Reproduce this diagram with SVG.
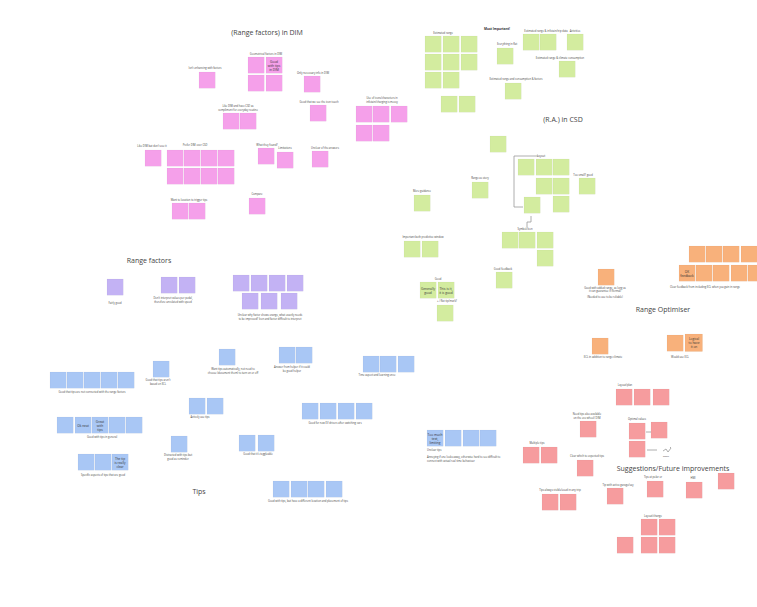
<svg xmlns="http://www.w3.org/2000/svg" width="757" height="607" viewBox="0 0 757 607">
<style>
.n{stroke:#000;stroke-opacity:0.07;stroke-width:0.4}
.pk{fill:#f5a0ea}.gr{fill:#d3ec9f}.or{fill:#f8b17b}.pu{fill:#c3b2f4}.bl{fill:#a9c7f5}.rd{fill:#f69c9e}
.t{font-family:"Open Sans","Liberation Sans",sans-serif;fill:#444;font-size:7px;text-anchor:middle}
.l{font-family:"Open Sans","Liberation Sans",sans-serif;fill:#444;font-size:2.6px;text-anchor:middle}
.ls{font-family:"Open Sans","Liberation Sans",sans-serif;fill:#444;font-size:2.6px}
.b{font-family:"Open Sans","Liberation Sans",sans-serif;fill:#333;font-size:3.2px;text-anchor:middle}
.c{fill:none;stroke:#9a9a9a;stroke-width:0.8}
</style>
<defs>
<rect id="s" width="16.2" height="16.2"/>
</defs>
<rect width="757" height="607" fill="#ffffff"/>

<g id="titles">
<text class="t" x="267" y="35">(Range factors) in DIM</text>
<text class="t" x="563" y="122">(R.A.) in CSD</text>
<text class="t" x="149" y="263">Range factors</text>
<text class="t" x="663" y="312">Range Optimiser</text>
<text class="t" x="673" y="471">Suggestions/Future improvements</text>
<text class="t" x="199" y="494">Tips</text>
</g>

<g id="connectors">
<path class="c" d="M538,156 H514 V207 H523"/>
<path class="c" d="M531,216 V222 H527 V227"/>
<path class="c" d="M646,432 H651" stroke-width="0.5"/>
<path class="c" d="M647,450 H657" stroke-width="0.5"/>
<path class="c" d="M663,451 l3,-2 l2,3 l3,-4 M670,447 l1,1" stroke-width="0.4"/>
</g>

<g id="dim-geo">
<text class="l" x="266" y="55">Geometrical factors in DIM</text>
<use href="#s" class="n pk" x="248" y="57"/><use href="#s" class="n pk" x="266" y="57"/>
<use href="#s" class="n pk" x="248" y="75"/><use href="#s" class="n pk" x="266" y="75"/>
<text class="b" x="274" y="63">Good</text><text class="b" x="274" y="67">with tips</text><text class="b" x="274" y="71">in DIM</text>
</g>
<g id="dim-enh"><text class="l" x="205" y="69">Isn't enhancing with factors</text><use href="#s" class="n pk" x="199" y="72"/></g>
<g id="dim-only"><text class="l" x="313" y="74">Only necessary info in DIM</text><use href="#s" class="n pk" x="304" y="76"/></g>
<g id="dim-icon"><text class="l" x="319" y="103">Good that we see the icon touch</text><use href="#s" class="n pk" x="310" y="105"/></g>
<g id="dim-use">
<text class="l" x="382" y="99">Use of icons/characters in</text><text class="l" x="382" y="103">infotain/charging is messy</text>
<use href="#s" class="n pk" x="356" y="106"/><use href="#s" class="n pk" x="373" y="106"/><use href="#s" class="n pk" x="391" y="106"/>
<use href="#s" class="n pk" x="356" y="125"/><use href="#s" class="n pk" x="373" y="125"/>
</g>
<g id="dim-like">
<text class="l" x="238" y="107">Like DIM and have CSD as</text><text class="l" x="238" y="111">compliment for everyday routine</text>
<use href="#s" class="n pk" x="223" y="113"/><use href="#s" class="n pk" x="240" y="113"/>
</g>
<g id="dim-dont"><text class="l" x="152" y="147">Like DIM but don't use it</text><use href="#s" class="n pk" x="145" y="150"/></g>
<g id="dim-prefer">
<text class="l" x="195" y="146">Prefer DIM over CSD</text>
<use href="#s" class="n pk" x="167" y="150"/><use href="#s" class="n pk" x="184" y="150"/><use href="#s" class="n pk" x="201" y="150"/><use href="#s" class="n pk" x="218" y="150"/>
<use href="#s" class="n pk" x="167" y="168"/><use href="#s" class="n pk" x="184" y="168"/><use href="#s" class="n pk" x="201" y="168"/><use href="#s" class="n pk" x="218" y="168"/>
</g>
<g id="dim-found"><text class="l" x="267" y="146">What they found?</text><use href="#s" class="n pk" x="258" y="148"/></g>
<g id="dim-lim"><text class="l" x="285" y="149">Limitations</text><use href="#s" class="n pk" x="277" y="152"/></g>
<g id="dim-unclear"><text class="l" x="325" y="149">Unclear of the answers</text><use href="#s" class="n pk" x="312" y="151"/></g>
<g id="dim-trigger"><text class="l" x="189" y="201">Want to location to trigger tips</text><use href="#s" class="n pk" x="172" y="203"/><use href="#s" class="n pk" x="189" y="203"/></g>
<g id="dim-compare"><text class="l" x="257" y="195">Compare</text><use href="#s" class="n pk" x="249" y="198"/></g>

<g id="csd-est">
<text class="b" x="497" y="30" style="font-weight:bold">Most Important!</text>
<text class="l" x="443" y="34">Estimated range</text>
<use href="#s" class="n gr" x="425" y="36"/><use href="#s" class="n gr" x="443" y="36"/><use href="#s" class="n gr" x="461" y="36"/>
<use href="#s" class="n gr" x="425" y="54"/><use href="#s" class="n gr" x="443" y="54"/><use href="#s" class="n gr" x="461" y="54"/>
<use href="#s" class="n gr" x="425" y="72"/><use href="#s" class="n gr" x="443" y="72"/>
<use href="#s" class="n gr" x="441" y="96"/><use href="#s" class="n gr" x="459" y="96"/>
</g>
<g id="csd-flat"><text class="l" x="507" y="45">Everything in flat</text><use href="#s" class="n gr" x="497" y="48"/></g>
<g id="csd-trip"><text class="l" x="546" y="32">Estimated range &amp; infotain/trip data</text><use href="#s" class="n gr" x="523" y="34"/><use href="#s" class="n gr" x="540" y="34"/></g>
<g id="csd-act"><text class="l" x="575" y="32">Activities</text><use href="#s" class="n gr" x="567" y="34"/></g>
<g id="csd-clim"><text class="l" x="560" y="59">Estimated range &amp; climate consumption</text><use href="#s" class="n gr" x="559" y="61"/></g>
<g id="csd-cons"><text class="l" x="516" y="80">Estimated range and consumption &amp; factors</text><use href="#s" class="n gr" x="505" y="83"/></g>
<g id="csd-lone"><use href="#s" class="n gr" x="490" y="136"/></g>
<g id="csd-layout">
<text class="l" x="541" y="157">Layout</text>
<use href="#s" class="n gr" x="518" y="159"/><use href="#s" class="n gr" x="536" y="159"/><use href="#s" class="n gr" x="553" y="159"/>
<use href="#s" class="n gr" x="536" y="178"/><use href="#s" class="n gr" x="553" y="178"/>
<use href="#s" class="n gr" x="553" y="196"/><use href="#s" class="n gr" x="524" y="197"/>
</g>
<g id="csd-small"><text class="l" x="583" y="176">Too small? good</text><use href="#s" class="n gr" x="579" y="178"/></g>
<g id="csd-story"><text class="l" x="480" y="179">Range as story</text><use href="#s" class="n gr" x="472" y="182"/></g>
<g id="csd-icon">
<text class="l" x="525" y="230">Symbol/Icon</text>
<use href="#s" class="n gr" x="502" y="232"/><use href="#s" class="n gr" x="519" y="232"/><use href="#s" class="n gr" x="537" y="232"/>
<use href="#s" class="n gr" x="537" y="250"/>
</g>
<g id="csd-guid"><text class="l" x="422" y="192">More guidance</text><use href="#s" class="n gr" x="414" y="195"/></g>
<g id="csd-pred"><text class="l" x="423" y="238">Important both predictive window</text><use href="#s" class="n gr" x="404" y="241"/><use href="#s" class="n gr" x="422" y="241"/></g>
<g id="csd-good">
<text class="l" x="438" y="280">Good</text>
<use href="#s" class="n gr" x="420" y="282"/><use href="#s" class="n gr" x="438" y="282"/>
<text class="b" x="428" y="290">Generally</text><text class="b" x="428" y="294">good</text>
<text class="b" x="446" y="290">This is it,</text><text class="b" x="446" y="294">it is good</text>
</g>
<g id="csd-flag"><text class="l" x="447" y="302">+ / flat tip/mark?</text><use href="#s" class="n gr" x="437" y="305"/></g>
<g id="csd-fb"><text class="l" x="503" y="270">Good feedback</text><use href="#s" class="n gr" x="496" y="272"/></g>

<g id="ro-added">
<use href="#s" class="n or" x="598" y="269"/>
<text class="l" x="605" y="289">Good with added range, as long as</text>
<text class="l" x="605" y="292">it can guarantee it (formal)</text>
<text class="l" x="605" y="297.5">(Needed to use to be reliable)</text>
</g>
<g id="ro-clear">
<use href="#s" class="n or" x="689" y="246"/><use href="#s" class="n or" x="706" y="246"/><use href="#s" class="n or" x="723" y="246"/><use href="#s" class="n or" x="741" y="246"/>
<use href="#s" class="n or" x="679" y="265"/><use href="#s" class="n or" x="696" y="265"/><use href="#s" class="n or" x="713" y="265"/><use href="#s" class="n or" x="731" y="265"/><use href="#s" class="n or" x="748" y="265"/>
<text class="b" x="687" y="273">OK</text><text class="b" x="687" y="277">feedback</text>
<text class="l" x="705" y="288">Clear feedback from including ECL when you gain in range</text>
</g>
<g id="ro-ecl"><use href="#s" class="n or" x="592" y="338"/><text class="l" x="603" y="358">ECL in addition to range climate</text></g>
<g id="ro-would">
<use href="#s" class="n or" x="667" y="335"/><rect class="n or" x="685" y="334" width="17.5" height="17.5"/>
<text class="b" x="694" y="340">Logical</text><text class="b" x="694" y="344">to have</text><text class="b" x="694" y="348">it on</text>
<text class="l" x="680" y="358">Would use ECL</text>
</g>

<g id="rf-fair"><use href="#s" class="n pu" x="107" y="279"/><text class="l" x="115" y="304">Fairly good</text></g>
<g id="rf-dont">
<use href="#s" class="n pu" x="161" y="277"/><use href="#s" class="n pu" x="179" y="277"/>
<text class="l" x="173" y="299">Don't interpret values per pedal,</text><text class="l" x="173" y="303">therefore unrelated with speed</text>
</g>
<g id="rf-unc">
<use href="#s" class="n pu" x="233" y="275"/><use href="#s" class="n pu" x="251" y="275"/><use href="#s" class="n pu" x="269" y="275"/><use href="#s" class="n pu" x="287" y="275"/>
<use href="#s" class="n pu" x="242" y="293"/><use href="#s" class="n pu" x="261" y="293"/><use href="#s" class="n pu" x="281" y="293"/>
<text class="l" x="270" y="316">Unclear why factor shows orange, what exactly needs</text><text class="l" x="270" y="320">to be improved? Icon and factor difficult to interpret</text>
</g>

<g id="tips-conn">
<use href="#s" class="n bl" x="50" y="372"/><use href="#s" class="n bl" x="67" y="372"/><use href="#s" class="n bl" x="84" y="372"/><use href="#s" class="n bl" x="101" y="372"/><use href="#s" class="n bl" x="118" y="372"/>
<text class="l" x="92" y="393">Good that tips are not connected with the range factors</text>
</g>
<g id="tips-gen">
<use href="#s" class="n bl" x="57" y="417"/><use href="#s" class="n bl" x="75" y="417"/><use href="#s" class="n bl" x="92" y="417"/><use href="#s" class="n bl" x="109" y="417"/><use href="#s" class="n bl" x="126" y="417"/>
<text class="b" x="83" y="427">Ok neat</text>
<text class="b" x="100" y="423">Great</text><text class="b" x="100" y="427">with</text><text class="b" x="100" y="431">tips</text>
<text class="l" x="102" y="438">Good with tips in general</text>
</g>
<g id="tips-spec">
<use href="#s" class="n bl" x="78" y="454"/><use href="#s" class="n bl" x="95" y="454"/><use href="#s" class="n bl" x="112" y="454"/>
<text class="b" x="120" y="460">The tip</text><text class="b" x="120" y="464">is really</text><text class="b" x="120" y="468">clear</text>
<text class="l" x="103" y="476">Specific aspects of tips that are good</text>
</g>
<g id="tips-lear"><use href="#s" class="n bl" x="153" y="361"/><text class="l" x="158" y="381">Good that tips aren't</text><text class="l" x="158" y="385">based on ECL</text></g>
<g id="tips-act"><use href="#s" class="n bl" x="189" y="398"/><use href="#s" class="n bl" x="207" y="398"/><text class="l" x="200" y="418">Actively use tips</text></g>
<g id="tips-dist"><use href="#s" class="n bl" x="171" y="436"/><text class="l" x="178" y="456">Distracted with tips but</text><text class="l" x="178" y="460">good as reminder</text></g>
<g id="tips-auto"><use href="#s" class="n bl" x="219" y="349"/><text class="l" x="233" y="370">Want tips automatically, not need to</text><text class="l" x="233" y="374">choose (document them) to turn on or off</text></g>
<g id="tips-ans"><use href="#s" class="n bl" x="279" y="347"/><use href="#s" class="n bl" x="296" y="347"/><text class="l" x="292" y="368">Answer from helper if it could</text><text class="l" x="292" y="372">be good helper</text></g>
<g id="tips-time"><use href="#s" class="n bl" x="363" y="356"/><use href="#s" class="n bl" x="380" y="356"/><use href="#s" class="n bl" x="398" y="356"/><text class="l" x="377" y="376">Time aspect and learning once</text></g>
<g id="tips-most">
<use href="#s" class="n bl" x="302" y="403"/><use href="#s" class="n bl" x="320" y="403"/><use href="#s" class="n bl" x="338" y="403"/><use href="#s" class="n bl" x="356" y="403"/>
<text class="l" x="335" y="424">Good for new EV drivers after switching cars</text>
</g>
<g id="tips-tog"><use href="#s" class="n bl" x="239" y="435"/><use href="#s" class="n bl" x="258" y="435"/><text class="l" x="258" y="455">Good that it's toggleable</text></g>
<g id="tips-bad">
<use href="#s" class="n bl" x="273" y="481"/><use href="#s" class="n bl" x="291" y="481"/><use href="#s" class="n bl" x="308" y="481"/><use href="#s" class="n bl" x="326" y="481"/>
<text class="l" x="308" y="502">Good with tips, but have a different location and placement of tips</text>
</g>
<g id="tips-unclear">
<use href="#s" class="n bl" x="427" y="430"/><use href="#s" class="n bl" x="445" y="430"/><use href="#s" class="n bl" x="463" y="430"/><use href="#s" class="n bl" x="480" y="430"/>
<text class="b" x="435" y="436">Too much</text><text class="b" x="435" y="440">text,</text><text class="b" x="435" y="444">limiting</text>
<text class="ls" x="427" y="451">Unclear tips</text>
<text class="ls" x="427" y="458">Annoying if one looks away, otherwise hard to see difficult to</text>
<text class="ls" x="427" y="462">connect with actual real time behaviour</text>
</g>

<g id="sug-multi"><text class="l" x="537" y="444">Multiple tips</text><use href="#s" class="n rd" x="523" y="447"/><use href="#s" class="n rd" x="541" y="447"/></g>
<g id="sug-ava"><text class="l" x="587" y="415">Need tips also available</text><text class="l" x="587" y="419">on the eco wheel/ DIM</text><use href="#s" class="n rd" x="580" y="421"/></g>
<g id="sug-exp"><text class="l" x="587" y="457">Clear which to expected tips</text><use href="#s" class="n rd" x="577" y="460"/></g>
<g id="sug-always"><text class="l" x="560" y="491">Tips always visible/used in any trip</text><use href="#s" class="n rd" x="542" y="494"/><use href="#s" class="n rd" x="560" y="494"/></g>
<g id="sug-layout"><text class="l" x="625" y="386">Layout/plan</text><use href="#s" class="n rd" x="616" y="389"/><use href="#s" class="n rd" x="634" y="389"/><use href="#s" class="n rd" x="653" y="389"/></g>
<g id="sug-opt">
<text class="l" x="637" y="420">Optimal values</text>
<use href="#s" class="n rd" x="629" y="423"/><use href="#s" class="n rd" x="651" y="422"/><use href="#s" class="n rd" x="629" y="441"/>
<text class="l" x="666" y="457" style="font-size:2px">sketch</text>
</g>
<g id="sug-red"><use href="#s" class="n rd" x="718" y="473"/></g>
<g id="sug-polar"><text class="l" x="653" y="478">Tips at polar or</text><use href="#s" class="n rd" x="647" y="481"/></g>
<g id="sug-hmi"><text class="l" x="693" y="479">HMI</text><use href="#s" class="n rd" x="686" y="482"/></g>
<g id="sug-garage"><text class="l" x="618" y="486">Tip with active garage/say</text><use href="#s" class="n rd" x="607" y="488"/></g>
<g id="sug-change">
<text class="l" x="653" y="517">Layout/change</text>
<use href="#s" class="n rd" x="641" y="519"/><use href="#s" class="n rd" x="659" y="519"/>
<use href="#s" class="n rd" x="641" y="537"/><use href="#s" class="n rd" x="659" y="537"/>
<use href="#s" class="n rd" x="617" y="537"/>
</g>
</svg>
